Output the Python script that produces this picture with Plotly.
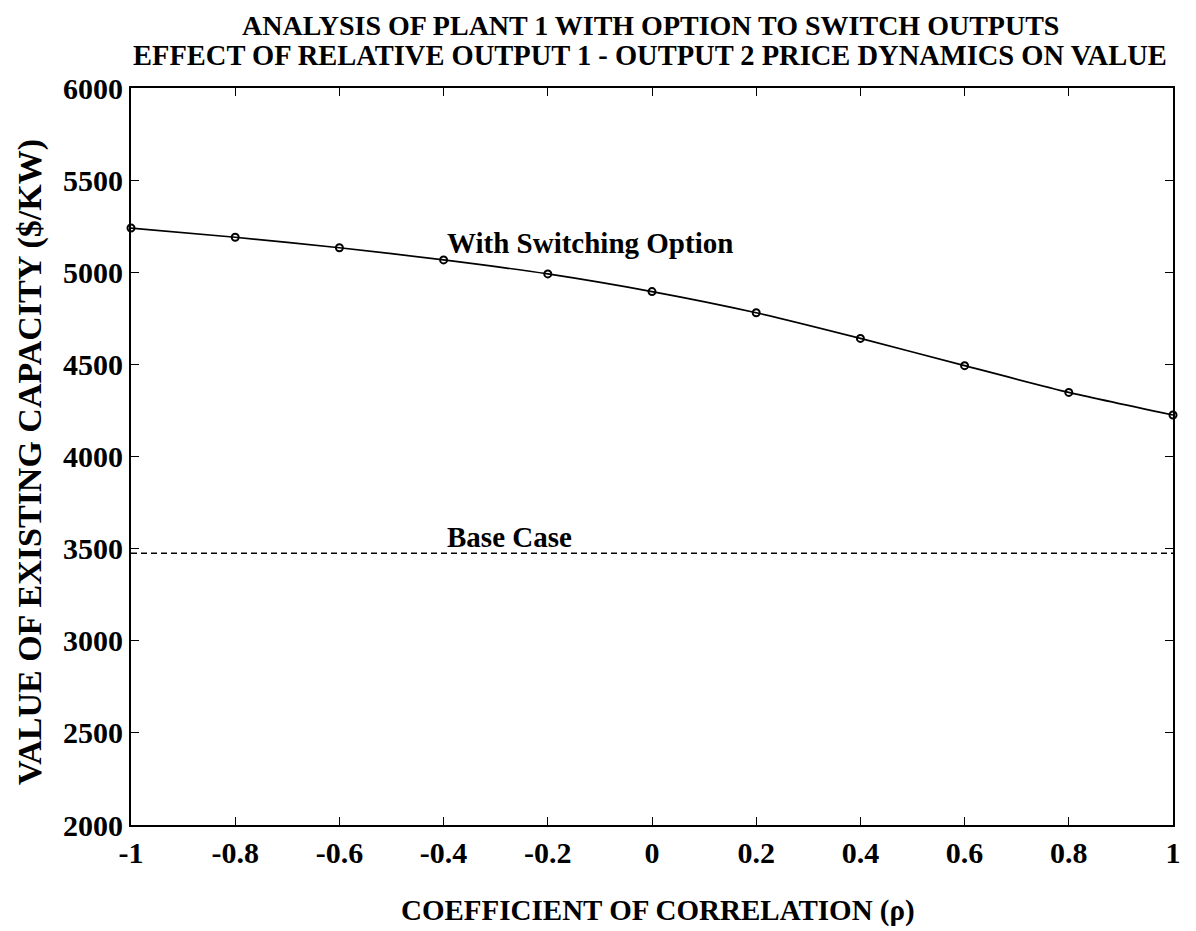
import plotly.graph_objects as go

rho = [-1, -0.8, -0.6, -0.4, -0.2, 0, 0.2, 0.4, 0.6, 0.8, 1]
value_switch = [5240, 5190, 5133, 5067, 4991, 4895, 4780, 4641, 4493, 4348, 4225]
base_case_value = 3475
x_ticks = [-1, -0.8, -0.6, -0.4, -0.2, 0, 0.2, 0.4, 0.6, 0.8, 1]
x_tick_text = ["-1", "-0.8", "-0.6", "-0.4", "-0.2", "0", "0.2", "0.4", "0.6", "0.8", "1"]
y_ticks = [2000, 2500, 3000, 3500, 4000, 4500, 5000, 5500, 6000]

FONT = "Liberation Serif, Times New Roman, serif"

# target plot area in screen px (page has an 8px body margin)
PL, PR, PT, PB = 131, 1173, 88, 825
PW, PH = PR - PL, PB - PT

def px(xs):
    return (xs - PL) / PW

def py(ys):
    return (PB - ys) / PH

fig = go.Figure()
fig.add_trace(go.Scatter(
    x=rho, y=value_switch, mode="lines+markers",
    line=dict(color="black", width=1.7, shape="spline", smoothing=0.6),
    marker=dict(symbol="circle-open", size=7, color="black", line=dict(width=2)),
    showlegend=False, cliponaxis=False,
))
fig.add_trace(go.Scatter(
    x=[rho[0], rho[-1]], y=[base_case_value, base_case_value], mode="lines",
    line=dict(color="black", width=1.5, dash="6px,4px"),
    showlegend=False,
))

tf = lambda s: dict(family=FONT, size=s, color="black", weight="bold")

fig.add_annotation(x=-0.397, y=5160, text="With Switching Option", showarrow=False,
                   xanchor="left", yanchor="middle", font=tf(29))
fig.add_annotation(x=-0.397, y=3563, text="Base Case", showarrow=False,
                   xanchor="left", yanchor="middle", font=tf(29))
fig.add_annotation(x=px(650), y=py(26), xref="paper", yref="paper",
                   text="ANALYSIS OF PLANT 1 WITH OPTION TO SWITCH OUTPUTS", showarrow=False,
                   xanchor="center", yanchor="middle", font=tf(28))
fig.add_annotation(x=px(650), y=py(56), xref="paper", yref="paper",
                   text="EFFECT OF RELATIVE OUTPUT 1 - OUTPUT 2 PRICE DYNAMICS ON VALUE", showarrow=False,
                   xanchor="center", yanchor="middle", font=tf(28.5))
fig.add_annotation(x=px(658), y=py(910), xref="paper", yref="paper",
                   text="COEFFICIENT OF CORRELATION (ρ)", showarrow=False,
                   xanchor="center", yanchor="middle", font=tf(29))
fig.add_annotation(x=px(30), y=py(462), xref="paper", yref="paper",
                   text="VALUE OF EXISTING CAPACITY ($/KW)", showarrow=False, textangle=-90,
                   xanchor="center", yanchor="middle", font=tf(34))

fig.update_layout(
    width=1196, height=931,
    paper_bgcolor="white", plot_bgcolor="white",
    margin=dict(l=PL - 8, r=1196 + 8 - PR, t=PT - 8, b=931 + 8 - PB),
    font=dict(family=FONT, color="black"),
)

fig.update_xaxes(
    range=[-1, 1], tickvals=x_ticks, ticktext=x_tick_text,
    ticks="inside", ticklen=8, tickwidth=1.4, tickcolor="black",
    showline=True, linecolor="black", linewidth=1.8, mirror="ticks",
    showgrid=False, zeroline=False,
    tickfont=tf(30),
)
fig.update_yaxes(
    range=[2000, 6000], tickvals=y_ticks,
    ticks="inside", ticklen=8, tickwidth=1.4, tickcolor="black",
    showline=True, linecolor="black", linewidth=1.8, mirror="ticks",
    showgrid=False, zeroline=False,
    tickfont=tf(30),
)

fig.write_html("out.html")
